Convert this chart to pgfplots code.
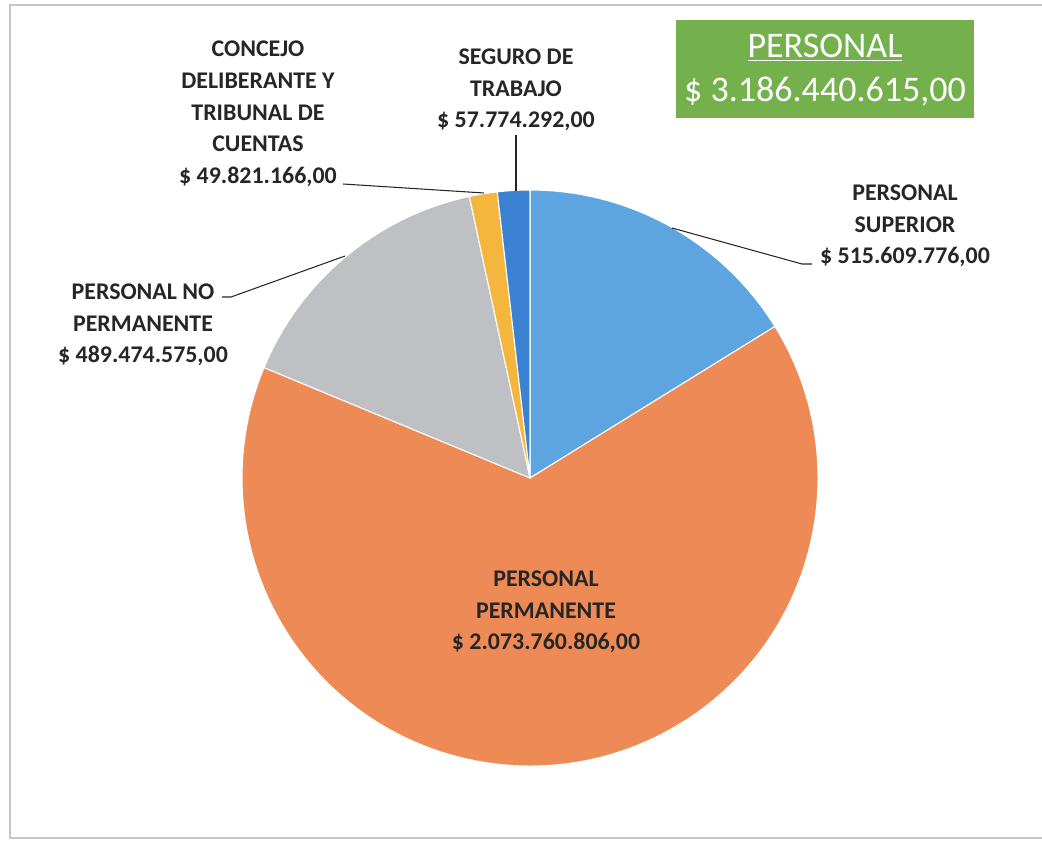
\documentclass[border=0pt]{standalone}
\usepackage{pgfplots}
\pgfplotsset{compat=1.18}
\usepackage{pgfplotstable}
\usepackage{fontspec}
\setmainfont{Carlito}

\definecolor{col0}{HTML}{5DA5E0}
\definecolor{col1}{HTML}{EE8A55}
\definecolor{col2}{HTML}{BFC0C4}
\definecolor{col3}{HTML}{F4B63C}
\definecolor{col4}{HTML}{3B82D2}
\definecolor{boxgreen}{HTML}{74B04C}
\definecolor{txt}{HTML}{262626}

\tikzset{lbl/.style={font=\fontsize{13.6}{18}\selectfont\bfseries, text=txt, align=center, inner sep=0pt}}

% values in millions of pesos, clockwise from 12 o'clock
\pgfplotstableread{
label value
superior 515.609776
permanente 2073.760806
nopermanente 489.474575
concejo 49.821166
seguro 57.774292
}\piedata

\begin{document}
\begin{tikzpicture}
% slice angles from the table
\def\total{0}
\pgfplotsforeachungrouped \i in {0,...,4}{%
  \pgfplotstablegetelem{\i}{value}\of\piedata
  \pgfmathsetmacro\total{\total+\pgfplotsretval}%
}
\def\cur{90}
\pgfplotsforeachungrouped \i in {0,...,4}{%
  \pgfplotstablegetelem{\i}{value}\of\piedata
  \pgfmathsetmacro\nxt{\cur-360*(\pgfplotsretval/\total)}%
  \expandafter\xdef\csname sa\i\endcsname{\cur}%
  \expandafter\xdef\csname ea\i\endcsname{\nxt}%
  \global\let\cur\nxt
}
\begin{axis}[width=20.84cm, height=16.82cm, scale only axis,
  xmin=0, xmax=1042, ymin=0, ymax=841, y dir=reverse,
  hide axis, clip=false]
% frame
\addplot[gray!45, line width=0.6pt] coordinates {(1042,5) (10,5) (10,838) (1042,838)};
% slices
\pgfplotsforeachungrouped \i in {0,...,4}{%
  \edef\tmp{\noexpand\fill[col\i, draw=white, line width=0.6pt] (axis cs:530,478) -- ++(\csname sa\i\endcsname:5.76cm)
    arc[start angle=\csname sa\i\endcsname, end angle=\csname ea\i\endcsname, radius=5.76cm] -- cycle;}%
  \tmp
}
% leader lines
\addplot[txt, line width=0.6pt] coordinates {(343,184) (484,193)};
\addplot[txt, line width=0.6pt] coordinates {(516,135) (516,191)};
\addplot[txt, line width=0.6pt] coordinates {(812,264) (802,264) (672,228)};
\addplot[txt, line width=0.6pt] coordinates {(222,297) (231,297) (345,256)};
% title box
\addplot[fill=boxgreen, draw=none] coordinates {(676,20) (974,20) (974,118) (676,118)} -- cycle;
\node[lbl, text=white, font=\fontsize{20.5}{25}\selectfont] at (axis cs:825,70) {\underline{PERSONAL}\\\$ 3.186.440.615,00};
% labels
\node[lbl] at (axis cs:258,114) {CONCEJO\\DELIBERANTE Y\\TRIBUNAL DE\\CUENTAS\\\$ 49.821.166,00};
\node[lbl] at (axis cs:516,90) {SEGURO DE\\TRABAJO\\\$ 57.774.292,00};
\node[lbl] at (axis cs:905,226) {PERSONAL\\SUPERIOR\\\$ 515.609.776,00};
\node[lbl] at (axis cs:143,325) {PERSONAL NO\\PERMANENTE\\\$ 489.474.575,00};
\node[lbl] at (axis cs:546,612) {PERSONAL\\PERMANENTE\\\$ 2.073.760.806,00};
\end{axis}
\pgfresetboundingbox
\path (current axis.south west) rectangle (current axis.north east);
\end{tikzpicture}
\end{document}
